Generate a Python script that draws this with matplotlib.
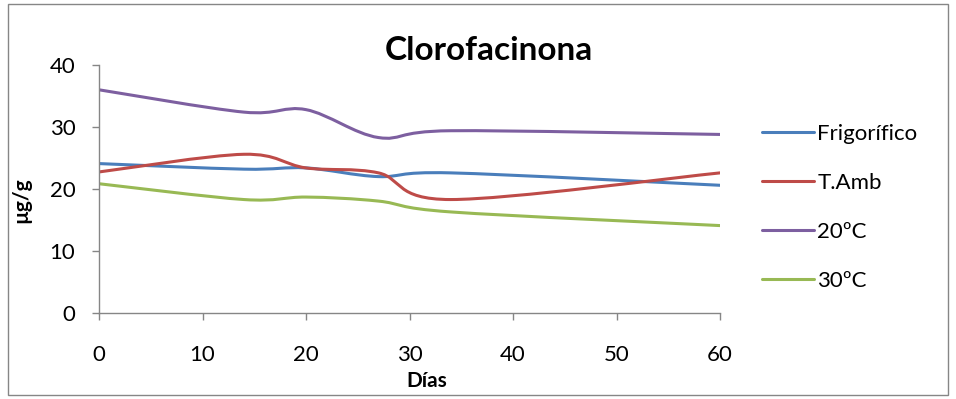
import matplotlib
matplotlib.use("Agg")
import matplotlib.pyplot as plt
from matplotlib.path import Path
from matplotlib.patches import PathPatch, Rectangle
from matplotlib.lines import Line2D

plt.rcParams['font.family'] = ['Lato', 'DejaVu Sans']

# Sampling days and concentrations (µg/g) per storage condition
dias = [0, 14, 20, 27, 34, 60]
frigorifico = [24.1, 23.2, 23.4, 22.0, 22.6, 20.6]
t_amb = [22.75, 25.6, 23.4, 22.6, 18.3, 22.6]
c20 = [36.0, 32.4, 32.8, 28.3, 29.4, 28.8]
c30 = [20.85, 18.3, 18.7, 18.05, 16.3, 14.1]

series = [
    ("Frigorífico", frigorifico, "#4A7EBB"),
    ("T.Amb", t_amb, "#BE4B48"),
    ("20ºC", c20, "#7D5FA0"),
    ("30ºC", c30, "#98B954"),
]

x_ticks = [0, 10, 20, 30, 40, 50, 60]
y_ticks = [0, 10, 20, 30, 40]


def smooth_path(xs, ys):
    """Cubic Bezier path through the points (Catmull-Rom style tangents)."""
    pts = list(zip(xs, ys))
    n = len(pts)
    verts = [pts[0]]
    codes = [Path.MOVETO]
    for i in range(n - 1):
        p0 = pts[i - 1] if i > 0 else pts[i]
        p1 = pts[i]
        p2 = pts[i + 1]
        p3 = pts[i + 2] if i + 2 < n else pts[i + 1]
        c1 = (p1[0] + (p2[0] - p0[0]) / 6, p1[1] + (p2[1] - p0[1]) / 6)
        c2 = (p2[0] - (p3[0] - p1[0]) / 6, p2[1] - (p3[1] - p1[1]) / 6)
        verts += [c1, c2, p2]
        codes += [Path.CURVE4] * 3
    return Path(verts, codes)


fig = plt.figure(figsize=(9.56, 3.99), dpi=100)
ax = fig.add_axes([99 / 956, 86 / 399, (720 - 99) / 956, (313 - 65) / 399])

handles = []
for name, vals, color in series:
    patch = PathPatch(smooth_path(dias, vals), fill=False, edgecolor=color,
                      linewidth=2.2, capstyle='round', joinstyle='round')
    ax.add_patch(patch)
    handles.append(Line2D([], [], color=color, linewidth=2.2,
                          solid_capstyle='round', label=name))

ax.set_xlim(0, 60)
ax.set_ylim(0, 40)
ax.set_xticks(x_ticks)
ax.set_yticks(y_ticks)
ax.tick_params(axis='both', direction='out', length=5, width=1,
               color='#868686', labelsize=16)
ax.tick_params(axis='x', pad=18)
ax.tick_params(axis='y', pad=12)
for s in ['top', 'right']:
    ax.spines[s].set_visible(False)
for s in ['left', 'bottom']:
    ax.spines[s].set_color('#868686')
    ax.spines[s].set_linewidth(1)

fig.text(427 / 956, 1 - 381 / 399, "Días", fontsize=15, fontweight='bold',
         ha='center', va='center')
fig.text(21 / 956, 1 - 200 / 399, "µg/g", fontsize=15, fontweight='bold',
         ha='center', va='center', rotation=90)

fig.text(489 / 956, 1 - 51 / 399, "Clorofacinona", fontsize=24,
         fontweight='bold', ha='center', va='center')

fig.legend(handles=handles, loc='upper left',
           bbox_to_anchor=(753 / 956, 1 - 115 / 399), frameon=False,
           fontsize=16, handlelength=2.35, handletextpad=0.15,
           labelspacing=1.3, borderaxespad=0)

fig.patches.append(Rectangle((8 / 956, 4 / 399), 940 / 956, 391 / 399,
                             transform=fig.transFigure, fill=False,
                             edgecolor='#868686', linewidth=1))

fig.savefig("out.png", dpi=100)
